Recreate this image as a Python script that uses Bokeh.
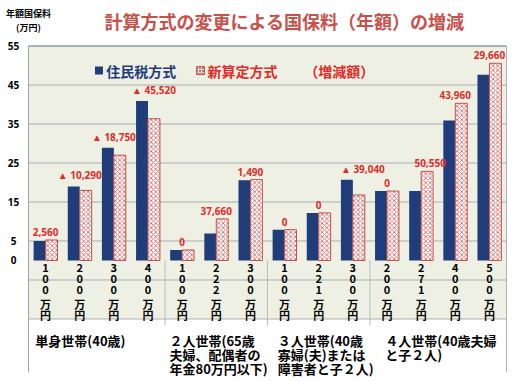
from bokeh.plotting import figure
from bokeh.models import ColumnDataSource, Range1d
from bokeh.core.properties import value
from bokeh.transform import dodge
from bokeh.embed import file_html
from bokeh.resources import INLINE

# ---- data ----
incomes = ["100万円", "200万円", "300万円", "400万円",
           "100万円", "222万円", "300万円",
           "100万円", "221万円", "300万円",
           "200万円", "271万円", "400万円", "500万円"]
groups = ["単身世帯(40歳)",
          "２人世帯(65歳\n夫婦、配偶者の\n年金80万円以下)",
          "３人世帯(40歳\n寡婦(夫)または\n障害者と子２人)",
          "４人世帯(40歳夫婦\nと子２人)"]
group_sizes = [4, 3, 3, 4]
juminzei = [5.0, 19.0, 28.9, 40.9, 2.7, 6.9, 20.6, 7.9, 12.2, 20.7, 17.8, 17.8, 35.9, 47.6]
shinsantei = [5.26, 17.97, 27.0, 36.35, 2.7, 10.67, 20.75, 7.9, 12.2, 16.8, 17.8, 22.86, 40.3, 50.57]
diff_labels = ["2,560", "▲ 10,290", "▲ 18,750", "▲ 45,520", "0", "37,660", "1,490",
               "0", "0", "▲ 39,040", "0", "50,550", "43,960", "29,660"]
y_ticks = [0, 5, 15, 25, 35, 45, 55]
grid_ticks = [-15, -5, 5, 15, 25, 35, 45]
title = "計算方式の変更による国保料（年額）の増減"
y_title = ["年額国保料", "(万円)"]
legend_labels = ["住民税方式", "新算定方式", "（増減額）"]

# ---- styling ----
BLUE = "#1f3d79"
RED = "#e02b2b"
HATCH = "#d86666"
GREEN_BG = "#eef0e3"
GRID = "#a9adb0"
label_dx = [0, 0, 0, 6, 0, 0, 0, 0, 0, 10, 0, 9, 0, 0]

n = len(incomes)
y_top, y_bot = 55, -15
xs = [i + 0.5 for i in range(n)]
src = ColumnDataSource(dict(
    x=xs, jum=juminzei, shin=shinsantei,
    top=[max(a, b) for a, b in zip(juminzei, shinsantei)],
    lab=diff_labels, dx=label_dx,
))

# one glyph per character for the vertical category labels
cx, cch, coff = [], [], []
for x, s in zip(xs, incomes):
    for k, ch in enumerate(s):
        cx.append(x)
        cch.append(ch)
        coff.append(k * 11)
char_src = ColumnDataSource(dict(x=cx, ch=cch, off=coff))

# group labels, one glyph per line
gx0 = [0.2, 4.13, 7.3, 10.45]
gx, gt, goff = [], [], []
for x, s in zip(gx0, groups):
    for k, line in enumerate(s.split("\n")):
        gx.append(x)
        gt.append(line)
        goff.append(k * 14)
grp_src = ColumnDataSource(dict(x=gx, t=gt, off=goff))

p = figure(width=520, height=381,
           x_range=Range1d(-0.820, n + 0.41), y_range=Range1d(-31.03, 66.67),
           output_backend="svg", toolbar_location=None,
           x_axis_location=None, y_axis_location=None,
           min_border=0)
p.outline_line_color = None
p.background_fill_color = "white"
p.border_fill_color = "white"
p.xgrid.visible = False
p.ygrid.visible = False

# plot-area background (chart + category table)
p.quad(left=[0], right=[n], bottom=[y_bot], top=[y_top], fill_color=GREEN_BG, line_color=None)
# horizontal grid lines
p.segment(x0=[0] * len(grid_ticks), y0=grid_ticks, x1=[n] * len(grid_ticks), y1=grid_ticks,
          line_color=GRID, line_width=1)
# frame lines
p.segment(x0=[0, 0, n], y0=[y_top, y_top, y_top], x1=[n, 0, n], y1=[y_top, -28.7, -28.7],
          line_color=["#8d9aa8", "#9ea4ab", "#b0b5ba"], line_width=[1.5, 1, 1])

# y tick labels
p.text(x=[0] * len(y_ticks), y=y_ticks, text=[str(t) for t in y_ticks], x_offset=-15,
       text_align="center", text_baseline="middle", text_color="black",
       text_font=value("Noto Sans"), text_font_style="bold", text_font_size="10px")

# group separators
bounds = []
acc = 0
for g in group_sizes[:-1]:
    acc += g
    bounds.append(acc)
p.segment(x0=bounds, y0=[0] * len(bounds), x1=bounds, y1=[-16.7] * len(bounds),
          line_color="#b8bcc0", line_width=1)

# bars
p.vbar(x=dodge("x", -0.175), top="jum", width=0.35, bottom=0, source=src,
       fill_color=BLUE, line_color=None)
p.vbar(x=dodge("x", 0.175), top="shin", width=0.35, bottom=0, source=src,
       fill_color="white", hatch_pattern="diagonal_cross", hatch_color=HATCH,
       hatch_scale=4.5, hatch_weight=0.9, line_color="#c0504d", line_width=1)

# difference labels
p.text(x="x", y="top", text="lab", source=src, x_offset="dx", y_offset=-4,
       text_align="center", text_baseline="bottom", text_color=RED,
       text_font=value("Noto Sans"), text_font_style="bold", text_font_size="10px")

# vertical category labels
p.text(x="x", y=-0.6, text="ch", source=char_src, y_offset="off",
       text_align="center", text_baseline="top", text_color="black",
       text_font=value("Noto Sans CJK JP"), text_font_style="bold", text_font_size="11px")

# group labels
p.text(x="x", y=-18.2, text="t", source=grp_src, y_offset="off",
       text_align="left", text_baseline="top", text_color="black",
       text_font=value("Noto Sans CJK JP"), text_font_style="bold", text_font_size="13px")

# legend
p.rect(x=[2.065], y=[48.7], width=8, height=8, width_units="screen", height_units="screen",
       fill_color=BLUE, line_color=None)
p.rect(x=[5.04], y=[48.7], width=8, height=8, width_units="screen", height_units="screen",
       fill_color="white", hatch_pattern="diagonal_cross", hatch_color=HATCH, hatch_scale=3,
       line_color="#c0504d")
p.text(x=[2.28, 5.24, 8.08], y=[48.7] * 3, text=legend_labels,
       text_color=[BLUE, RED, RED], text_align="left", text_baseline="middle",
       text_font=value("Noto Sans CJK JP"), text_font_style="bold", text_font_size="14px")

# title and axis title
p.text(x=[7.5], y=[61.54], text=[title], text_align="center", text_baseline="middle",
       text_color="#c8504a", text_font=value("Noto Sans CJK JP"), text_font_style="bold",
       text_font_size="18px")
p.text(x=[0, 0], y=[63.33, 59.74], text=y_title, text_align="center", text_baseline="middle",
       text_color="black", text_font=value("Noto Sans CJK JP"), text_font_style="bold",
       text_font_size="9px")

open("out.html", "w").write(file_html(p, INLINE))
